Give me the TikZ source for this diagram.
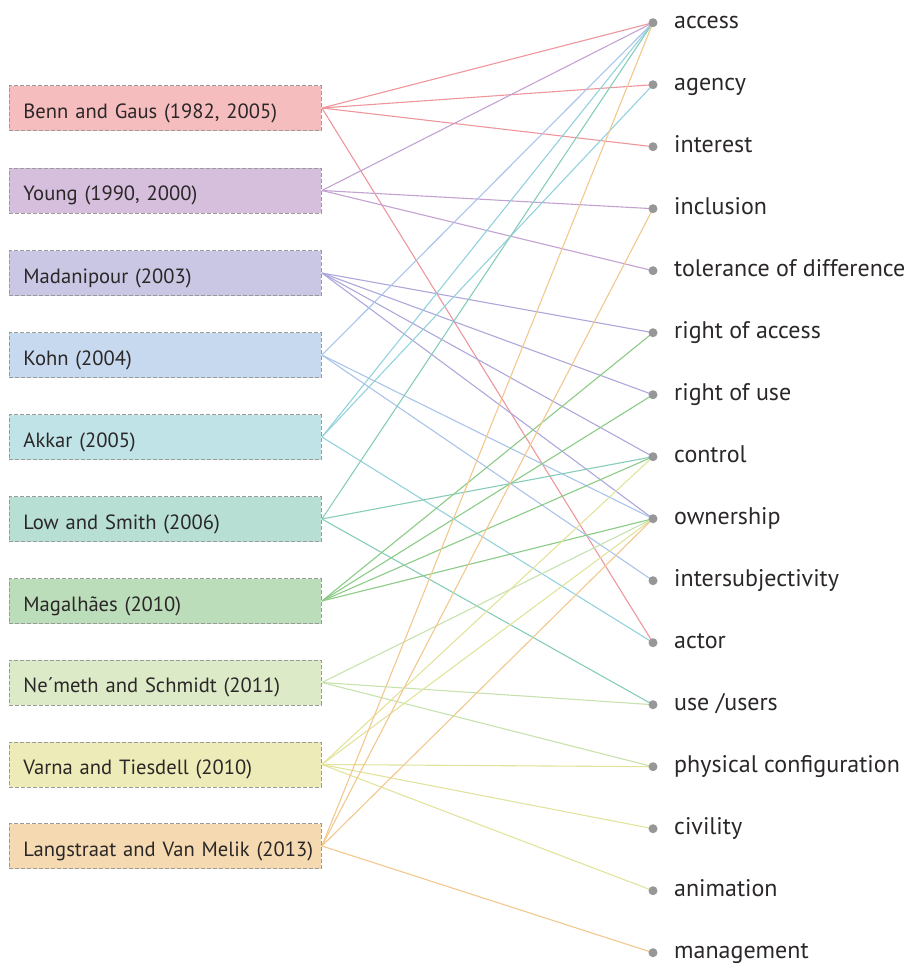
\documentclass[tikz,border=0pt]{standalone}
\usepackage{fontspec}
\setmainfont{PT Sans}
\definecolor{boxedge}{HTML}{9A9A9A}
\definecolor{dotgray}{HTML}{979797}
\definecolor{labeltext}{HTML}{2B2728}
% fills of the source boxes
\definecolor{fBenn}{HTML}{F5BDBE}
\definecolor{fYoung}{HTML}{D5BFDD}
\definecolor{fMada}{HTML}{C9C7E3}
\definecolor{fKohn}{HTML}{C7D9EF}
\definecolor{fAkkar}{HTML}{BFE3E6}
\definecolor{fLow}{HTML}{B7DFD4}
\definecolor{fMaga}{HTML}{BCDDB9}
\definecolor{fNem}{HTML}{DCEAC8}
\definecolor{fVarna}{HTML}{EDEBB7}
\definecolor{fLang}{HTML}{F5DAB1}
% line colours
\definecolor{lBenn}{HTML}{EE969C}
\definecolor{lYoung}{HTML}{C3A2D3}
\definecolor{lMada}{HTML}{ADA8DA}
\definecolor{lKohn}{HTML}{A9C4EA}
\definecolor{lAkkar}{HTML}{93D2DD}
\definecolor{lLow}{HTML}{86CDB9}
\definecolor{lMaga}{HTML}{8ACB86}
\definecolor{lNem}{HTML}{C8E2AE}
\definecolor{lVarna}{HTML}{E2E39C}
\definecolor{lLang}{HTML}{F2C88E}
\begin{document}
\begin{tikzpicture}[x=1pt,y=-1pt,
  srcbox/.style={draw=boxedge, line width=0.9pt, dash pattern=on 4pt off 2pt,
    inner xsep=14pt, inner ysep=0pt, text width=284pt, minimum height=45pt,
    text height=22pt, text depth=2pt,
    align=left, anchor=west, text=labeltext, font=\fontsize{20.6}{24}\selectfont},
  hub/.style={circle, fill=dotgray, minimum size=9pt, inner sep=0pt},
  term/.style={anchor=base west, inner sep=0pt, text=labeltext,
    font=\fontsize{24}{28}\selectfont},
  link/.style={line width=1.1pt}]
\useasboundingbox (0,0) rectangle (908,966);

% source boxes (titles kept on one line)
\node[srcbox, fill=fBenn]  (benn)  at (9,108)   {\mbox{Benn and Gaus (1982, 2005)}};
\node[srcbox, fill=fYoung] (young) at (9,190.5) {\mbox{Young (1990, 2000)}};
\node[srcbox, fill=fMada]  (mada)  at (9,273)   {\mbox{Madanipour (2003)}};
\node[srcbox, fill=fKohn]  (kohn)  at (9,355)   {\mbox{Kohn (2004)}};
\node[srcbox, fill=fAkkar] (akkar) at (9,437)   {\mbox{Akkar (2005)}};
\node[srcbox, fill=fLow]   (low)   at (9,519)   {\mbox{Low and Smith (2006)}};
\node[srcbox, fill=fMaga]  (maga)  at (9,601)   {\mbox{Magalhães (2010)}};
\node[srcbox, fill=fNem]   (nem)   at (9,682.5) {\mbox{Ne´meth and Schmidt (2011)}};
\node[srcbox, fill=fVarna] (varna) at (9,764.5) {\mbox{Varna and Tiesdell (2010)}};
\node[srcbox, fill=fLang]  (lang)  at (9,846)   {\mbox{Langstraat and Van Melik (2013)}};

% concept dots
\foreach \n [count=\i from 0] in {access,agency,interest,inclusion,tolerance,rightaccess,rightuse,control,ownership,intersub,actor,use,physical,civility,animation,management}
  \coordinate (p-\n) at (653,{22.7+62*\i});

% connectors
\draw[link, lBenn] (benn.east) -- (p-access);
\draw[link, lBenn] (benn.east) -- (p-agency);
\draw[link, lBenn] (benn.east) -- (p-interest);
\draw[link, lBenn] (benn.east) -- (p-actor);

\draw[link, lYoung] (young.east) -- (p-access);
\draw[link, lYoung] (young.east) -- (p-inclusion);
\draw[link, lYoung] (young.east) -- (p-tolerance);

\draw[link, lMada] (mada.east) -- (p-rightaccess);
\draw[link, lMada] (mada.east) -- (p-rightuse);
\draw[link, lMada] (mada.east) -- (p-control);
\draw[link, lMada] (mada.east) -- (p-ownership);

\draw[link, lKohn] (kohn.east) -- (p-access);
\draw[link, lKohn] (kohn.east) -- (p-ownership);
\draw[link, lKohn] (kohn.east) -- (p-intersub);

\draw[link, lAkkar] (akkar.east) -- (p-access);
\draw[link, lAkkar] (akkar.east) -- (p-agency);
\draw[link, lAkkar] (akkar.east) -- (p-actor);

\draw[link, lLow] (low.east) -- (p-access);
\draw[link, lLow] (low.east) -- (p-control);
\draw[link, lLow] (low.east) -- (p-use);

\draw[link, lMaga] (maga.east) -- (p-rightaccess);
\draw[link, lMaga] (maga.east) -- (p-rightuse);
\draw[link, lMaga] (maga.east) -- (p-control);
\draw[link, lMaga] (maga.east) -- (p-ownership);

\draw[link, lNem] (nem.east) -- (p-ownership);
\draw[link, lNem] (nem.east) -- (p-use);
\draw[link, lNem] (nem.east) -- (p-physical);

\draw[link, lVarna] (varna.east) -- (p-control);
\draw[link, lVarna] (varna.east) -- (p-ownership);
\draw[link, lVarna] (varna.east) -- (p-physical);
\draw[link, lVarna] (varna.east) -- (p-civility);
\draw[link, lVarna] (varna.east) -- (p-animation);

\draw[link, lLang] (lang.east) -- (p-access);
\draw[link, lLang] (lang.east) -- (p-inclusion);
\draw[link, lLang] (lang.east) -- (p-ownership);
\draw[link, lLang] (lang.east) -- (p-management);

% dots and their labels
\foreach \n/\t in {access/{access}, agency/{agency}, interest/{interest},
  inclusion/{inclusion}, tolerance/{tolerance of difference},
  rightaccess/{right of access}, rightuse/{right of use}, control/{control},
  ownership/{ownership}, intersub/{intersubjectivity}, actor/{actor},
  use/{use /users}, physical/{physical configuration}, civility/{civility},
  animation/{animation}, management/{management}}
{
  \node[hub] (d-\n) at (p-\n) {};
  \node[term] (t-\n) at ([xshift=21pt,yshift=-6pt]p-\n) {\t};
}
\end{tikzpicture}
\end{document}
